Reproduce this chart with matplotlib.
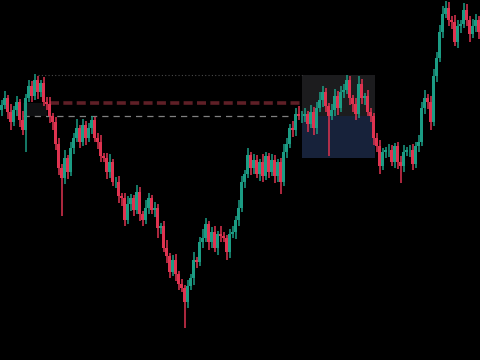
import matplotlib
matplotlib.use("Agg")
import matplotlib.pyplot as plt
import numpy as np

# Close prices per candle
closes = [255,262,248,238,250,258,240,230,262,274,264,280,268,277,258,256,244,238,216,192,
          182,202,188,212,222,232,218,235,222,232,240,222,218,204,202,188,198,178,178,164,
          162,140,156,162,150,168,146,140,152,162,150,152,132,134,112,104,88,100,86,76,
          72,58,74,82,100,98,118,122,136,118,128,112,126,124,122,108,126,128,140,152,
          178,186,205,192,200,186,198,184,204,188,200,184,198,178,208,216,232,230,246,244,
          244,246,236,248,232,252,260,268,254,244,250,264,252,268,270,280,262,256,246,276,
          262,264,248,244,222,214,194,208,210,210,198,214,198,194,208,210,210,196,214,218,
          252,262,258,238,284,302,328,346,352,340,338,318,334,336,350,340,326,334,340,328]
first_open = 250
# upper / lower wick lengths per candle
wick_up = [5,7,3,8,4,6,3,9,4,6,5,6,4,3,6,5,7,3,5,6,
           4,8,3,6,5,9,3,6,4,5,4,3,5,7,3,5,8,3,5,6,
           3,5,8,4,3,7,5,3,8,5,3,6,4,3,5,8,3,5,6,3,
           5,3,6,4,8,3,5,9,6,3,5,6,3,8,4,3,5,6,4,8,
           6,4,7,3,6,5,3,8,4,3,6,5,3,4,8,6,4,7,6,8,
           5,6,3,7,5,6,8,6,4,3,6,7,5,6,6,5,4,3,6,8,
           5,3,6,4,3,5,6,4,3,6,5,3,4,6,7,3,5,6,4,7,
           6,8,4,6,7,6,7,8,7,6,4,7,6,4,7,6,4,7,6,4]
wick_lo = [6,4,7,8,4,6,7,5,22,4,6,4,7,5,4,6,7,8,6,7,
           38,6,7,4,6,4,6,4,7,4,6,4,7,6,4,7,6,4,6,7,
           8,6,4,7,6,4,7,6,4,6,4,7,10,6,4,7,6,4,7,6,
           4,26,6,4,7,6,4,6,4,8,6,4,7,6,4,8,6,4,7,6,
           4,6,4,7,6,4,7,6,4,6,4,7,6,12,4,6,4,7,6,4,
           7,6,8,4,7,6,4,7,6,40,4,6,7,4,6,4,7,8,6,4,
           6,7,4,6,7,6,8,4,6,7,4,6,7,17,6,4,7,6,4,6,
           4,6,7,8,4,6,4,6,4,6,7,4,6,7,4,6,8,4,6,7]

# levels / zones (price units)
dotted_level, dotted_start, dotted_end = 285, 12, 100.2
red_level, red_start, red_end = 257, 16, 100.2
gray_level, gray_start, gray_end = 244, 7, 97
small_zone = (7, 15, 244, 257)
box_x0, box_x1 = 100.2, 124.5
box_top, box_mid, box_bot = 285, 244, 202

UP = "#1b9c84"
DOWN = "#df3350"

opens = [first_open] + closes[:-1]
n = len(closes)
idx = np.arange(n)
o = np.array(opens, float)
c = np.array(closes, float)
hi = np.maximum(o, c) + np.array(wick_up)
lo = np.minimum(o, c) - np.array(wick_lo)

fig = plt.figure(figsize=(4.8, 3.6), dpi=100, facecolor="black")
ax = fig.add_axes([0, 0, 1, 1])
ax.set_facecolor("black")
ax.set_xlim(-0.5, n - 0.5)
ax.set_ylim(0, 360)
ax.axis("off")

# zones
ax.fill_between([box_x0, box_x1], box_mid, box_top, color="#1c1c1e", zorder=0, lw=0)
ax.fill_between([box_x0, box_x1], box_bot, box_mid, color="#17223a", zorder=0, lw=0)
ax.fill_between([small_zone[0], small_zone[1]], small_zone[2], small_zone[3], color="#0f1012", zorder=0, lw=0)

# levels
ax.hlines(dotted_level, dotted_start, dotted_end, colors="#4a4a4a", linestyles=(0, (1, 2)), lw=0.8, zorder=1)
ax.hlines(red_level, red_start, red_end, colors="#5e1f26", linestyles=(0, (2.5, 1.2)), lw=2.6, zorder=1)
ax.hlines(gray_level, gray_start, gray_end, colors="#808080", linestyles=(0, (5, 4)), lw=0.9, zorder=1)

cols = [UP if cc >= oo else DOWN for oo, cc in zip(o, c)]
ax.vlines(idx, lo, hi, colors=cols, lw=1.1, zorder=2)
ax.bar(idx, np.abs(c - o) + 0.8, bottom=np.minimum(o, c) - 0.4, width=0.72, color=cols, zorder=3, lw=0)

fig.savefig("out.png", dpi=100, facecolor="black")
